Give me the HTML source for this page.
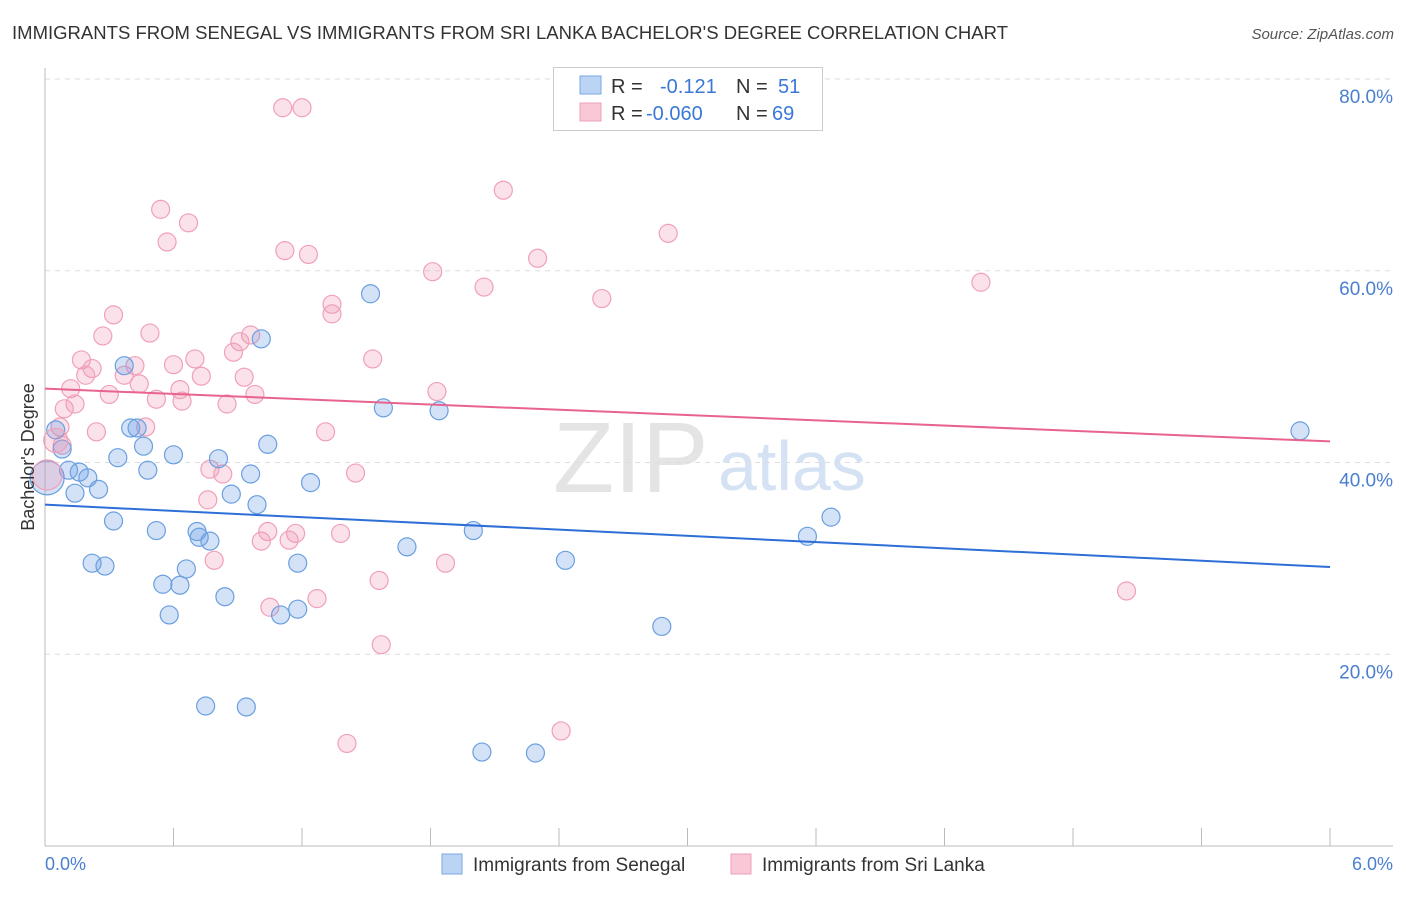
<!DOCTYPE html>
<html><head><meta charset="utf-8"><style>
body{margin:0;background:#fff;font-family:"Liberation Sans",sans-serif;}
svg text{font-family:"Liberation Sans",sans-serif;}
</style></head><body>
<svg id="chart" width="1406" height="892" xmlns="http://www.w3.org/2000/svg">
<text x="12" y="39" font-size="18.5" fill="#333" textLength="996">IMMIGRANTS FROM SENEGAL VS IMMIGRANTS FROM SRI LANKA BACHELOR'S DEGREE CORRELATION CHART</text>
<text x="1394" y="39" font-size="15" fill="#555" font-style="italic" text-anchor="end">Source: ZipAtlas.com</text>
<g>
<text x="553" y="492" font-size="100" font-family="Liberation Serif" fill="#e4e4e4">ZIP</text>
<text x="718" y="490" font-size="70" fill="#d4e2f4">atlas</text>
</g>
<g id="grid"></g>
<g id="axes"></g>
<g id="pts"></g>
<g id="trend"></g>
<text x="34" y="457" font-size="18" fill="#333" text-anchor="middle" transform="rotate(-90 34 457)">Bachelor's Degree</text>
<text x="45" y="870" font-size="18" fill="#4a7fd0">0.0%</text>
<text x="1393" y="870" font-size="18" fill="#4a7fd0" text-anchor="end">6.0%</text>
<g>
<rect x="553.5" y="67.5" width="269" height="63" fill="#fff" stroke="#ccc"/>
<rect x="580" y="76" width="21" height="18" fill="#bcd4f4" stroke="#7aa8e6"/>
<rect x="580" y="103" width="21" height="18" fill="#f9c8d6" stroke="#f0a0b8"/>
<text y="93" font-size="20"><tspan x="611" fill="#333">R = </tspan><tspan x="660" fill="#3a78d8">-0.121</tspan><tspan x="736" fill="#333">N = </tspan><tspan x="778" fill="#3a78d8">51</tspan></text>
<text y="120" font-size="20"><tspan x="611" fill="#333">R = </tspan><tspan x="646" fill="#3a78d8">-0.060</tspan><tspan x="736" fill="#333">N = </tspan><tspan x="772" fill="#3a78d8">69</tspan></text>
</g>
<g>
<rect x="442" y="854" width="20" height="20" fill="#bcd4f4" stroke="#7aa8e6"/>
<text x="473" y="871" font-size="19" fill="#333">Immigrants from Senegal</text>
<rect x="731" y="854" width="20" height="20" fill="#f9c8d6" stroke="#f0a0b8"/>
<text x="762" y="871" font-size="19" fill="#333">Immigrants from Sri Lanka</text>
</g>
</svg>
<script>
const yTicks=[20,40,60,80];
const yTickLabels=["20.0%","40.0%","60.0%","80.0%"];
const xTicks=[0,0.6,1.2,1.8,2.4,3,3.6,4.2,4.8,5.4,6];
const senegalX=[0.05,0.08,0.11,0.16,0.20,0.14,0.25,0.32,0.22,0.28,0.37,0.34,0.40,0.43,0.46,0.48,0.52,0.55,0.58,0.60,0.63,0.66,0.71,0.72,0.75,0.77,0.81,0.84,0.87,0.94,0.96,0.99,1.01,1.04,1.10,1.18,1.18,1.24,1.52,1.58,1.69,1.84,2.00,2.04,2.29,2.43,2.88,3.56,3.67,5.86];
const senegalY=[43.4,41.4,39.2,39.0,38.4,36.8,37.2,33.9,29.5,29.2,50.1,40.5,43.6,43.6,41.7,39.2,32.9,27.3,24.1,40.8,27.2,28.9,32.8,32.2,14.6,31.8,40.4,26.0,36.7,14.5,38.8,35.6,52.9,41.9,24.1,24.7,29.5,37.9,57.6,45.7,31.2,45.4,32.9,9.8,9.7,29.8,22.9,32.3,34.3,43.3];
const sriX=[1.11,1.20,2.14,0.54,0.67,0.57,1.12,1.23,1.81,2.30,2.91,2.05,2.60,4.37,1.34,1.34,0.32,0.49,0.27,0.96,0.91,0.88,0.17,0.22,0.42,0.60,0.70,1.53,0.19,0.37,0.73,0.93,0.44,0.12,0.30,0.63,0.98,1.83,0.52,0.64,0.85,0.14,0.09,0.24,0.07,0.47,1.31,0.08,1.45,0.77,0.83,0.76,1.04,1.17,1.01,1.14,1.38,0.79,1.87,1.56,1.27,1.05,5.05,1.57,1.41,2.41];
const sriY=[77.0,77.0,68.4,66.4,65.0,63.0,62.1,61.7,59.9,61.3,63.9,58.3,57.1,58.8,56.5,55.5,55.4,53.5,53.2,53.3,52.6,51.5,50.7,49.8,50.1,50.2,50.8,50.8,49.1,49.1,49.0,48.9,48.2,47.7,47.1,47.6,47.1,47.4,46.6,46.4,46.1,46.1,45.6,43.2,43.7,43.7,43.2,41.8,38.9,39.3,38.8,36.1,32.8,32.6,31.8,31.9,32.6,29.8,29.5,27.7,25.8,24.9,26.6,21.0,10.7,12.0];
const bigX=[0.01,0.05];
const bigY=[38.4,42.3];
const trendSenegal=[35.6,29.1];
const trendSri=[47.7,42.2];
const NS="http://www.w3.org/2000/svg";
const X=v=>45+v/6*1285;
const Y=v=>846-v*9.5875;
function mk(t,a,p){const e=document.createElementNS(NS,t);for(const k in a)e.setAttribute(k,a[k]);p.appendChild(e);return e;}
const grid=document.getElementById('grid'),axes=document.getElementById('axes'),pts=document.getElementById('pts'),tr=document.getElementById('trend');
yTicks.forEach((t,i)=>{
 const l=mk('line',{x1:45,x2:1393,y1:Y(t),y2:Y(t),stroke:'#ddd','stroke-dasharray':'5,5'},grid);
 
 
 const tx=mk('text',{x:1393,y:Y(t)+24,'font-size':19,fill:'#4a7fd0','text-anchor':'end'},grid);
 tx.textContent=yTickLabels[i];
 
 
});
const topGrid=mk('line',{x1:45,x2:1393,y1:Y(80),y2:Y(80),stroke:'#ddd','stroke-dasharray':'5,5'},grid);


const ya=mk('line',{x1:45,x2:45,y1:68,y2:846,stroke:'#bbb'},axes);


const xa=mk('line',{x1:45,x2:1393,y1:846,y2:846,stroke:'#bbb'},axes);


xTicks.forEach(t=>{
 const l=mk('line',{x1:X(t),x2:X(t),y1:828,y2:846,stroke:'#bbb'},axes);
 
 
});
function dot(x,y,r,blue){
 const c=mk('circle',{cx:X(x),cy:Y(y),r:r,fill:blue?'rgba(110,160,230,0.3)':'rgba(240,150,180,0.28)',stroke:blue?'#6a9fe0':'#f0a0b8','stroke-width':1.2},pts);
 
 
}
sriX.forEach((x,i)=>dot(x,sriY[i],9,false));
senegalX.forEach((x,i)=>dot(x,senegalY[i],9,true));
dot(bigX[0],bigY[0],17,true);dot(bigX[0],bigY[0]+0.3,15,false);dot(bigX[1],bigY[1],12,false);
const l1=mk('line',{x1:X(0),x2:X(6),y1:Y(trendSenegal[0]),y2:Y(trendSenegal[1]),stroke:'#2d6fd6','stroke-width':2},tr);


const l2=mk('line',{x1:X(0),x2:X(6),y1:Y(trendSri[0]),y2:Y(trendSri[1]),stroke:'#e8638e','stroke-width':2},tr);


</script>
</body></html>
